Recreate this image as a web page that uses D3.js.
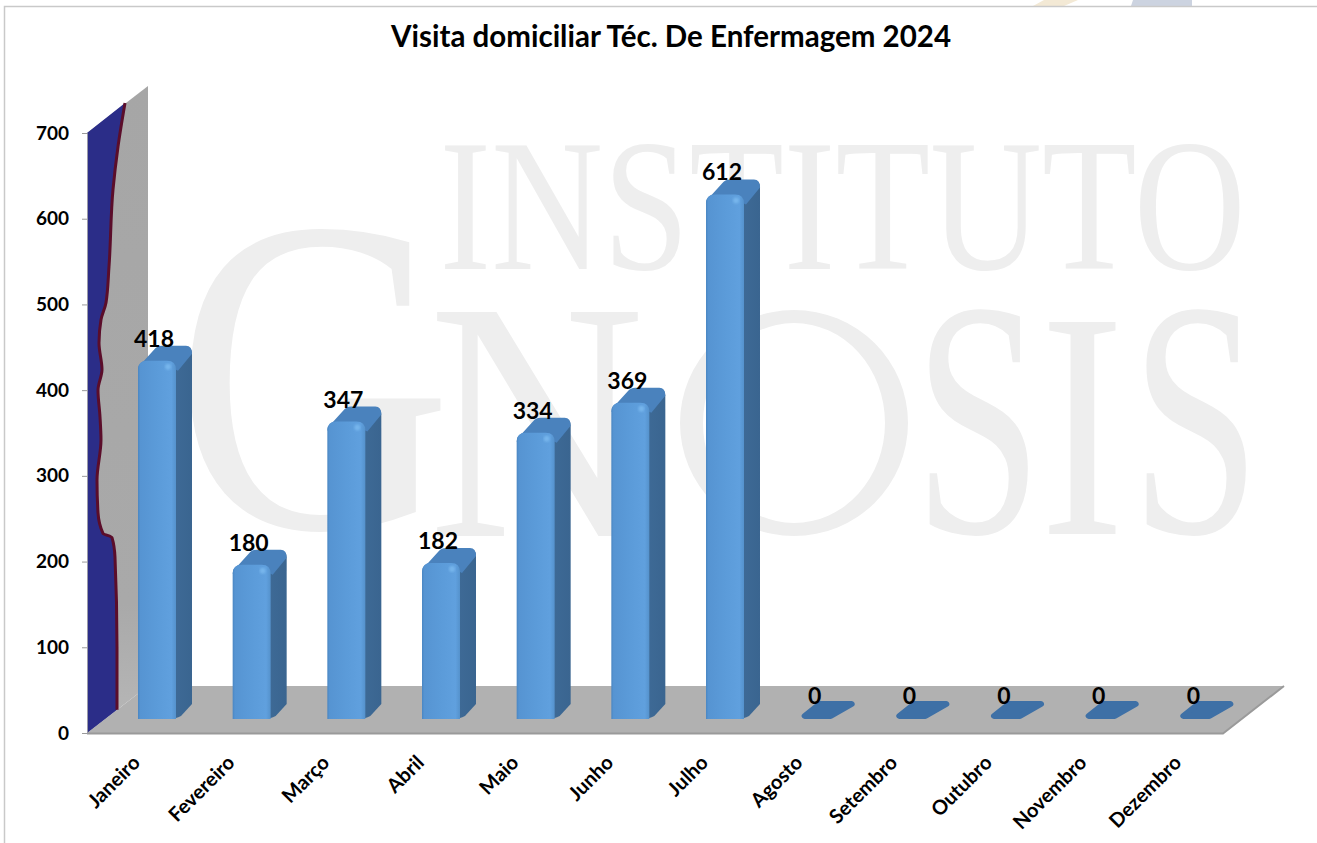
<!DOCTYPE html>
<html>
<head>
<meta charset="utf-8">
<script src="https://cdn.jsdelivr.net/npm/d3@7"></script>
<style>
  html, body { margin: 0; padding: 0; background: #fff; }
  svg { display: block; }
  text { font-family: Lato, "Open Sans", sans-serif; font-weight: 700; fill: #000; }
</style>
</head>
<body>
<div id="chart"></div>
<script>
const months = ['Janeiro', 'Fevereiro', 'Março', 'Abril', 'Maio', 'Junho', 'Julho', 'Agosto', 'Setembro', 'Outubro', 'Novembro', 'Dezembro'];
const visits = [418, 180, 347, 182, 334, 369, 612, 0, 0, 0, 0, 0];
const yTicks = [0, 100, 200, 300, 400, 500, 600, 700];
// the blue patch on the side wall: [offset from the axis, axis value]
const wallEdge = [[38, 735], [31, 684], [26, 634], [22, 544], [19, 502], [14, 482], [12, 455], [15, 424], [11, 400], [13, 369], [14, 342], [10, 295], [11, 257], [16, 233], [25, 228], [28, 205], [30, 100], [30, 27]];

const width = 1317, height = 843;
const svg = d3.select('#chart').append('svg').attr('width', width).attr('height', height);
const defs = svg.append('defs');

const x = d3.scaleBand().domain(months).range([87, 1223]);
const y = d3.scaleLinear().domain([0, 700]).range([733, 133]);

// 3D box settings
const floorDx = 61, floorDy = 47;   // full depth of floor
const barFront = 14;                // bars stand this far up from the front edge
const barOffset = 51, barW = 38;
const barDx = 16, barDy = 15;

const grad = defs.append('linearGradient').attr('id', 'frontGrad');
[[0, '#4a86c2'], [0.06, '#5694d2'], [0.5, '#5b9bd9'], [0.88, '#60a0de'], [1, '#5592cc']].forEach(s => {
  grad.append('stop').attr('offset', s[0]).attr('stop-color', s[1]);
});
const sideGrad = defs.append('linearGradient').attr('id', 'sideGrad');
[[0, '#4a7cae'], [0.25, '#3e6a96'], [1, '#3a6590']].forEach(s => {
  sideGrad.append('stop').attr('offset', s[0]).attr('stop-color', s[1]);
});
const wallGrad = defs.append('linearGradient').attr('id', 'wallGrad').attr('x1', 0).attr('x2', 0).attr('y1', 0).attr('y2', 1);
[[0, '#a6a6a6'], [0.8, '#a9a9a9'], [1, '#b8b8b8']].forEach(s => {
  wallGrad.append('stop').attr('offset', s[0]).attr('stop-color', s[1]);
});
const glow = defs.append('filter').attr('id', 'soft');
glow.append('feGaussianBlur').attr('stdDeviation', 1.2);

// fit a serif string into a box using its real ink bounds
const measure = document.createElement('canvas').getContext('2d');
function watermark(str, x0, x1, y0, y1) {
  measure.font = '200px "Liberation Serif"';
  const m = measure.measureText(str);
  const sx = (x1 - x0) / (m.actualBoundingBoxLeft + m.actualBoundingBoxRight);
  const sy = (y1 - y0) / (m.actualBoundingBoxAscent + m.actualBoundingBoxDescent);
  svg.append('text')
    .attr('transform', `translate(${x0 + m.actualBoundingBoxLeft * sx},${y0 + m.actualBoundingBoxAscent * sy}) scale(${sx},${sy})`)
    .style('font-family', '"Liberation Serif"')
    .style('font-weight', 400)
    .style('font-size', '200px')
    .style('fill', '#eeeeee')
    .text(str);
}
watermark('INSTITUTO', 445, 1240, 145, 271);
watermark('G', 190, 442, 230, 532);
watermark('N', 436, 638, 312, 536);
watermark('S', 929, 1028, 310, 536);
watermark('I', 1049, 1116, 322, 534);
watermark('S', 1146, 1246, 310, 536);
// the O in the mark is much thinner than the font's, so it is a ring
svg.append('path')
  .attr('fill', '#eeeeee').attr('fill-rule', 'evenodd')
  .attr('d', 'M680,423a114,113 0 1,0 228,0a114,113 0 1,0 -228,0Z M703,423a91,100 0 1,0 182,0a91,100 0 1,0 -182,0Z');

// logo remains at the top
svg.append('polygon').attr('points', '1044,0 1078,0 1064,6 1033,6').attr('fill', '#f3e9d5');
svg.append('polygon').attr('points', '1133,0 1192,0 1192,6 1131,6').attr('fill', '#ccd3e0');

// outer frame
svg.append('path').attr('d', `M4.5,${height}V6.5H${width}`).attr('fill', 'none').attr('stroke', '#c9c9c9').attr('stroke-width', 1.5);

// floor
const floorLine = d3.line();
svg.append('path')
  .attr('d', floorLine([[87, y(0)], [1223, y(0)], [1223 + floorDx, y(0) - floorDy], [87 + floorDx, y(0) - floorDy]]) + 'Z')
  .attr('fill', '#b1b1b1');
svg.append('path')
  .attr('d', floorLine([[87, y(0) + 0.5], [1223, y(0) + 0.5], [1223 + floorDx, y(0) - floorDy]]))
  .attr('fill', 'none').attr('stroke', '#9a9a9a').attr('stroke-width', 2);

// side wall
svg.append('path')
  .attr('d', floorLine([[87, y(700)], [87 + floorDx, y(700) - floorDy], [87 + floorDx, y(0) - floorDy], [87, y(0)]]) + 'Z')
  .attr('fill', 'url(#wallGrad)');

const edge = d3.line().x(d => 87 + d[0]).y(d => y(d[1])).curve(d3.curveMonotoneY);
const edgePath = edge(wallEdge);
svg.append('path')
  .attr('d', edgePath + `L87,${y(0)}L87,${y(700)}Z`)
  .attr('fill', '#2b2d88');
svg.append('path')
  .attr('d', edgePath)
  .attr('fill', 'none').attr('stroke', '#5b0d2a').attr('stroke-width', 3);

// axes
const yAxis = svg.append('g')
  .attr('transform', 'translate(87,0)')
  .call(d3.axisLeft(y).tickValues(yTicks).tickSize(5).tickPadding(13));
yAxis.select('.domain').attr('stroke', '#9a9aa8').attr('stroke-width', 1);
yAxis.selectAll('line').attr('stroke', '#9a9a9a');
yAxis.selectAll('text').style('font-size', '19px').style('font-family', 'Lato').attr('fill', '#000');

const xAxis = svg.append('g')
  .attr('transform', `translate(0,${y(0)})`)
  .call(d3.axisBottom(x).tickSize(0));
xAxis.select('.domain').remove();
xAxis.selectAll('text')
  .style('font-size', '20px').style('font-family', 'Lato').attr('fill', '#000')
  .attr('text-anchor', 'end')
  .attr('transform', 'translate(2,26) rotate(-45)')
  .attr('dy', '0.35em').attr('y', 0);

// bars
const bars = svg.append('g').selectAll('g').data(months).join('g');
bars.each(function(m, i) {
  const g = d3.select(this);
  const v = visits[i];
  const x0 = x(m) + barOffset;
  const base = y(0) - barFront;
  const top = y(v) - barFront;

  if (v === 0) {
    g.append('path')
      .attr('d', floorLine([[x0 + 4, base - 3], [x0 + 30, base - 3], [x0 + 51, base - 15], [x0 + 19, base - 15]]) + 'Z')
      .attr('fill', '#3e70a6').attr('stroke', '#3e70a6').attr('stroke-width', 6).attr('stroke-linejoin', 'round');
  } else {
    const r = 9;
    const xr = x0 + barW;
    // side face
    g.append('path')
      .attr('d', `M${xr - 8},${top + 6}L${xr + barDx - 8},${top - barDy + 2}Q${xr + barDx},${top - barDy} ${xr + barDx},${top - barDy + 8}L${xr + barDx},${base - barDy}L${xr + 5},${base - 3}Q${xr},${base} ${xr - 8},${base}Z`)
      .attr('fill', 'url(#sideGrad)');
    // top face
    g.append('path')
      .attr('d', `M${x0},${top + r}Q${x0},${top + 3} ${x0 + 6},${top}L${x0 + barDx},${top - barDy + 4}Q${x0 + barDx + 3},${top - barDy} ${x0 + barDx + 8},${top - barDy}L${xr + barDx - 6},${top - barDy}Q${xr + barDx},${top - barDy} ${xr + barDx},${top - barDy + 8}L${xr + 2},${top + 10}L${xr - 8},${top + 5}Z`)
      .attr('fill', '#4a82bd');
    // front face
    g.append('path')
      .attr('d', `M${x0},${base}V${top + r}Q${x0},${top} ${x0 + r},${top}H${xr - r}Q${xr},${top} ${xr},${top + r}V${base}Z`)
      .attr('fill', 'url(#frontGrad)');
    // small highlight at the corner
    g.append('circle')
      .attr('cx', xr - 8).attr('cy', top + 6).attr('r', 3)
      .attr('fill', '#7dbbf0').attr('opacity', 0.8).attr('filter', 'url(#soft)');
  }

  g.append('text')
    .attr('x', x0 + (v === 0 ? 14 : 16))
    .attr('y', top - barFront - (v === 0 ? 1 : 0))
    .attr('text-anchor', 'middle')
    .style('font-size', '23px')
    .text(v);
});

// title
svg.append('text')
  .attr('x', 671).attr('y', 47)
  .attr('text-anchor', 'middle')
  .style('font-size', '29.5px')
  .text('Visita domiciliar Téc. De Enfermagem 2024');
</script>
</body>
</html>
